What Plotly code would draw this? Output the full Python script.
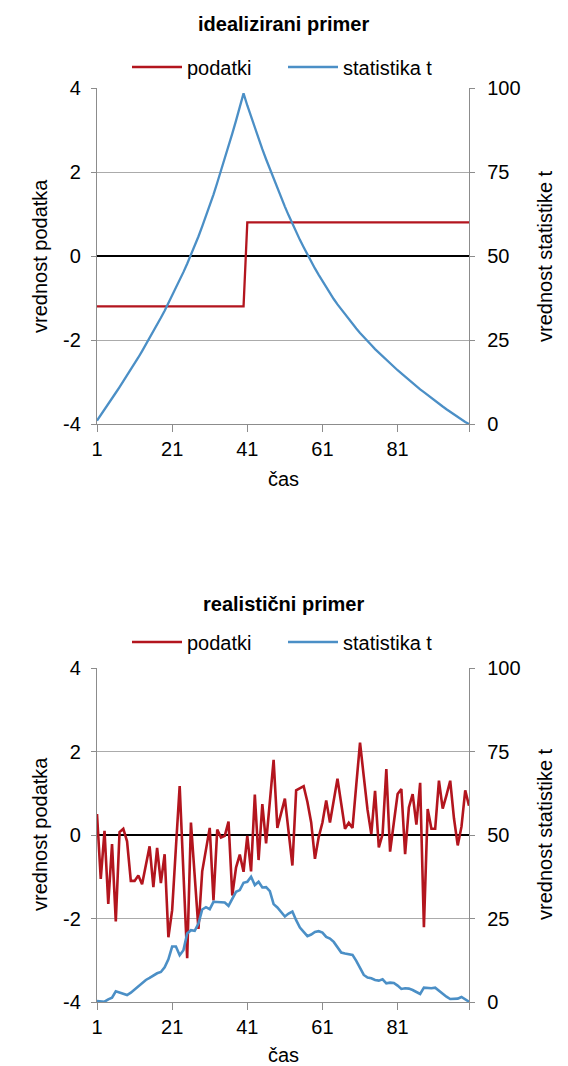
import plotly.graph_objects as go

# time index shared by both panels
cas = list(range(1, 101))

# idealized example: step change after sample 40
ideal_podatki = [-1.2] * 40 + [0.8] * 60
ideal_t = [
    1.0, 2.6, 4.2, 5.9, 7.6, 9.3, 11.0, 12.7, 14.4, 16.2,
    18.0, 19.8, 21.7, 23.6, 25.5, 27.5, 29.5, 31.6, 33.7, 35.9,
    38.1, 40.4, 42.8, 45.2, 47.7, 50.3, 53.0, 55.8, 58.8, 61.8,
    65.0, 68.3, 71.8, 75.3, 78.9, 82.6, 86.4, 90.3, 94.3, 98.4,
    94.8, 91.4, 88.1, 84.9, 81.8, 78.8, 75.9, 73.0, 70.2, 67.4,
    64.7, 62.1, 59.5, 57.1, 54.8, 52.6, 50.4, 48.3, 46.3, 44.4,
    42.5, 40.7, 38.9, 37.2, 35.6, 34.1, 32.6, 31.1, 29.7, 28.4,
    27.1, 25.8, 24.6, 23.5, 22.3, 21.2, 20.2, 19.1, 18.1, 17.0,
    16.0, 15.1, 14.1, 13.1, 12.2, 11.3, 10.3, 9.5, 8.6, 7.7,
    6.9, 6.0, 5.2, 4.4, 3.6, 2.9, 2.1, 1.3, 0.6, 0.0,
]

# realistic example: noisy data and its statistic
real_podatki = [
    0.50, -1.05, 0.10, -1.65, -0.22, -2.07, 0.07, 0.15, -0.15, -1.10,
    -1.10, -0.97, -1.18, -0.73, -0.27, -1.25, -0.31, -1.15, -0.46, -2.45,
    -1.80, -0.30, 1.17, -0.90, -2.95, 0.30, -0.95, -2.25, -0.87, -0.35,
    0.17, -1.57, 0.13, -0.06, -0.02, 0.32, -1.45, -0.78, -0.47, -0.88,
    -0.02, -0.87, 0.97, -0.60, 0.74, -0.20, 0.75, 1.80, 0.17, 0.52,
    0.87, 0.07, -0.73, 1.07, 1.12, 1.17, 0.79, 0.30, -0.57, -0.05,
    0.30, 0.83, 0.30, 0.82, 1.35, 0.75, 0.15, 0.29, 0.17, 1.20,
    2.21, 1.40, 0.60, 0.02, 1.06, -0.30, 0.02, 1.58, -0.40, 0.30,
    0.98, 1.10, -0.46, 0.66, 0.98, 0.25, 1.25, -2.21, 0.62, 0.15,
    0.15, 1.30, 0.63, 0.95, 1.30, 0.40, -0.25, 0.20, 1.07, 0.70,
]
real_t = [
    0.3, 0.2, 0.1, 0.8, 1.3, 3.2, 2.8, 2.3, 2.1, 2.8,
    3.7, 4.6, 5.6, 6.6, 7.2, 8.0, 8.6, 9.0, 10.4, 12.8,
    16.6, 16.6, 14.0, 15.5, 20.5, 21.5, 21.3, 23.5, 27.7, 28.4,
    27.8, 30.0, 29.9, 29.8, 29.8, 28.8, 31.0, 33.0, 33.5, 35.7,
    36.0, 37.5, 35.0, 36.0, 34.3, 34.4, 33.2, 29.3, 28.3, 27.0,
    25.6, 26.5, 27.1, 24.5, 22.3, 21.0, 19.7, 20.2, 21.0, 21.2,
    20.8, 19.5, 19.0, 18.0, 16.3, 14.8, 14.5, 14.4, 14.1, 12.3,
    10.2, 8.1, 7.3, 7.1, 6.6, 6.4, 6.8, 5.6, 5.8, 5.7,
    4.9, 3.9, 4.1, 4.0, 3.6, 3.0, 2.4, 4.3, 4.2, 4.1,
    4.3, 3.4, 2.4, 1.6, 0.9, 0.9, 1.0, 1.5, 0.8, 0.1,
]

x_tickvals = [1, 21, 41, 61, 81, 100]
x_ticktext = ["1", "21", "41", "61", "81", ""]
left_ticks = [-4, -2, 0, 2, 4]
left_ticktext = ["-4", "-2", "0", "2", "4"]
right_ticks = [0, 25, 50, 75, 100]

RED = "#B3151E"
BLUE = "#4B8FC6"
FONT = "Liberation Sans, Arial, sans-serif"
W, H = 568, 1066

def px_x(p):
    return p / W

def px_y(p):
    return 1 - p / H

x_dom = [px_x(97), px_x(469)]
top_dom = [px_y(424), px_y(88)]
bot_dom = [px_y(1002), px_y(668)]

fig = go.Figure()

fig.add_trace(go.Scatter(x=cas, y=ideal_podatki, name="podatki", mode="lines",
                         line=dict(color=RED, width=2.3), xaxis="x", yaxis="y",
                         legend="legend"))
fig.add_trace(go.Scatter(x=cas, y=ideal_t, name="statistika t", mode="lines",
                         line=dict(color=BLUE, width=2.3), xaxis="x", yaxis="y2",
                         legend="legend"))
fig.add_trace(go.Scatter(x=cas, y=real_podatki, name="podatki", mode="lines",
                         line=dict(color=RED, width=2.6), xaxis="x2", yaxis="y3",
                         legend="legend2"))
fig.add_trace(go.Scatter(x=cas, y=real_t, name="statistika t", mode="lines",
                         line=dict(color=BLUE, width=2.6), xaxis="x2", yaxis="y4",
                         legend="legend2"))

axis_line = "#8C8C8C"
grid = "#ABABAB"
tickfont = dict(family=FONT, size=20, color="#000000")

def xaxis(anchor):
    return dict(domain=x_dom, anchor=anchor, range=[1, 100], tickvals=x_tickvals,
                ticktext=x_ticktext, ticks="outside", ticklen=7, tickcolor=axis_line,
                showline=True, linecolor=axis_line, linewidth=1.3, showgrid=False,
                zeroline=False, tickfont=tickfont, automargin=False)

def yleft(anchor, dom):
    return dict(domain=dom, anchor=anchor, range=[-4, 4], tickvals=left_ticks,
                ticktext=left_ticktext,
                ticks="outside", ticklen=5, tickcolor=axis_line, showline=True,
                linecolor=axis_line, linewidth=1.3, showgrid=True, gridcolor=grid,
                gridwidth=1.3, zeroline=True, zerolinecolor="#000000", zerolinewidth=2,
                tickfont=tickfont, ticklabelstandoff=6, automargin=False)

def yright(anchor, over):
    return dict(overlaying=over, anchor=anchor, side="right", range=[0, 100],
                tickvals=right_ticks, ticks="outside", ticklen=5, tickcolor=axis_line,
                showline=True, linecolor=axis_line, linewidth=1.3, showgrid=False,
                zeroline=False, tickfont=tickfont, ticklabelstandoff=8,
                automargin=False)

legend_common = dict(orientation="h", xanchor="center", yanchor="middle",
                     x=px_x(283), font=dict(family=FONT, size=20, color="#000000"),
                     bgcolor="rgba(0,0,0,0)", itemwidth=50, entrywidth=91)

fig.update_layout(
    width=W, height=H,
    margin=dict(l=0, r=0, t=0, b=0, autoexpand=False),
    paper_bgcolor="#FFFFFF", plot_bgcolor="#FFFFFF",
    font=dict(family=FONT, size=20, color="#000000"),
    xaxis=xaxis("y"), yaxis=yleft("x", top_dom), yaxis2=yright("x", "y"),
    xaxis2=xaxis("y3"), yaxis3=yleft("x2", bot_dom), yaxis4=yright("x2", "y3"),
    legend=dict(legend_common, y=px_y(67)),
    legend2=dict(legend_common, y=px_y(642)),
    showlegend=True,
)

def label(text, x, y, angle=0, bold=False):
    fig.add_annotation(text=f"<b>{text}</b>" if bold else text, x=px_x(x), y=px_y(y),
                       xref="paper", yref="paper", showarrow=False, textangle=angle,
                       xanchor="center", yanchor="middle",
                       font=dict(family=FONT, size=20, color="#000000"))

# panel titles
label("idealizirani primer", 283, 24, bold=True)
label("realistični primer", 283, 604, bold=True)
# axis titles
for off in (0, 578):
    label("vrednost podatka", 40, 256 + off, angle=-90)
    label("vrednost statistike t", 545, 256 + off, angle=-90)
label("čas", 283, 479)
label("čas", 283, 1055)

fig.write_html("out.html")
